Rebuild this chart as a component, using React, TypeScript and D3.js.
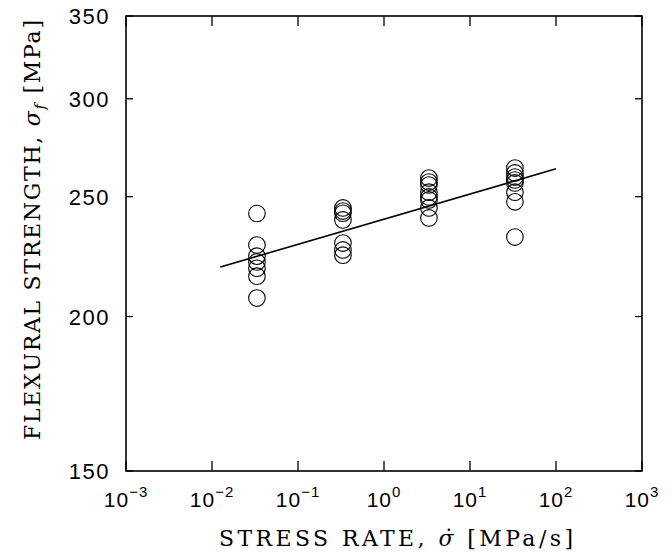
import React from 'react'
import * as d3 from 'd3'

// stress rates (MPa/s) and the measured strengths at each rate
const stressRates = [0.0333, 0.333, 3.33, 33.3]
const strengthAtRate0 = [242.3, 228.5, 223.8, 221.4, 218.8, 215.6, 207]
const strengthAtRate1 = [244.8, 243.4, 242.4, 239.4, 229.3, 226.4, 224.2]
const strengthAtRate2 = [258.8, 256.9, 255.5, 252.1, 249.9, 248.5, 244.8, 240.3]
const strengthAtRate3 = [263.7, 261.3, 259.3, 257.9, 256.5, 252.1, 247.6, 231.9]

// regression line end points
const fitRates = [0.0125, 100]
const fitStrengths = [219.3, 263.3]

const xTickValues = [1e-3, 1e-2, 1e-1, 1, 10, 100, 1000]
const xTickExponents = ['\u22123', '\u22122', '\u22121', '0', '1', '2', '3']
const yTickValues = [150, 200, 250, 300, 350]

const width = 672
const height = 556
const margin = { left: 126, right: 30, top: 16, bottom: 85 }

export default function App () {
  const x = d3.scaleLog()
    .domain([1e-3, 1e3])
    .range([margin.left, width - margin.right])
  const y = d3.scaleLog()
    .domain([150, 350])
    .range([height - margin.bottom, margin.top])

  const groups = [strengthAtRate0, strengthAtRate1, strengthAtRate2, strengthAtRate3]
  const points = []
  groups.forEach((vals, i) => {
    vals.forEach((v) => points.push({ rate: stressRates[i], s: v }))
  })

  const line = d3.line()
    .x((d) => x(d[0]))
    .y((d) => y(d[1]))
  const fitPath = line(fitRates.map((r, i) => [r, fitStrengths[i]]))

  const x0 = x.range()[0]
  const x1 = x.range()[1]
  const y0 = y.range()[0]
  const y1 = y.range()[1]

  const sans = '"Liberation Sans", Arial, sans-serif'
  const serif = '"DejaVu Serif", serif'

  return (
    <svg width={width} height={height} style={{ position: 'absolute', left: 0, top: 0, background: '#fff' }}>
      {/* frame */}
      <rect x={x0} y={y1} width={x1 - x0} height={y0 - y1} fill='none' stroke='#000' strokeWidth={1.6} />

      {/* x ticks, mirrored top and bottom */}
      {xTickValues.map((t, i) => (
        <g key={'xt' + i}>
          <line x1={x(t)} x2={x(t)} y1={y0} y2={y0 - 10} stroke='#000' strokeWidth={1.3} />
          <line x1={x(t)} x2={x(t)} y1={y1} y2={y1 + 10} stroke='#000' strokeWidth={1.3} />
          <text x={x(t)} y={y0 + 36} textAnchor='middle' fontFamily={sans} fontSize={21} letterSpacing={1}>
            10<tspan dy={-10} fontSize={15}>{xTickExponents[i]}</tspan>
          </text>
        </g>
      ))}

      {/* y ticks, mirrored left and right */}
      {yTickValues.map((t, i) => (
        <g key={'yt' + i}>
          <line x1={x0} x2={x0 + 7} y1={y(t)} y2={y(t)} stroke='#000' strokeWidth={1.3} />
          <line x1={x1} x2={x1 - 7} y1={y(t)} y2={y(t)} stroke='#000' strokeWidth={1.3} />
          <text x={x0 - 16} y={y(t) + 8} textAnchor='end' fontFamily={sans} fontSize={22} letterSpacing={1.5}>
            {t}
          </text>
        </g>
      ))}

      {/* data */}
      {points.map((p, i) => (
        <circle key={'p' + i} cx={x(p.rate)} cy={y(p.s)} r={8.3} fill='none' stroke='#000' strokeWidth={1.1} />
      ))}
      <path d={fitPath} fill='none' stroke='#000' strokeWidth={1.6} />

      {/* axis titles */}
      <text x={219} y={546} fontFamily={serif} fontSize={22} textLength={354} lengthAdjust='spacing'>
        STRESS RATE, <tspan fontStyle='italic'>{'\u03C3\u0307'}</tspan> [MPa/s]
      </text>
      <text transform='translate(40, 440) rotate(-90)' fontFamily={serif} fontSize={22} textLength={420} lengthAdjust='spacing'>
        FLEXURAL STRENGTH, <tspan fontStyle='italic'>{'\u03C3'}</tspan><tspan fontStyle='italic' fontSize={15} dy={5}>f</tspan><tspan dy={-5}> [MPa]</tspan>
      </text>
    </svg>
  )
}
